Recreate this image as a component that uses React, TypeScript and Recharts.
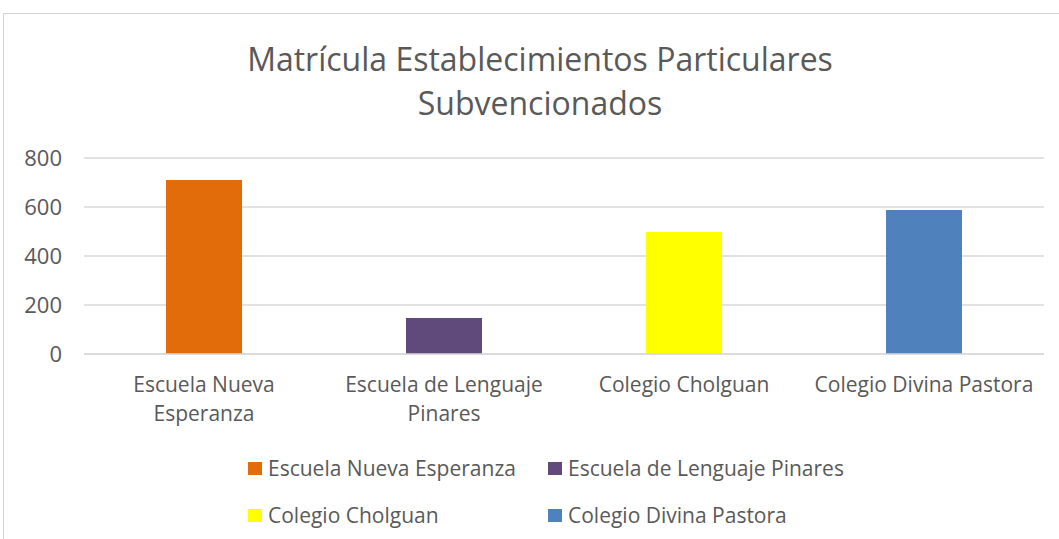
import { Bar, BarChart, CartesianGrid, Cell, Legend, XAxis, YAxis } from 'recharts';

const schools = [
  'Escuela Nueva Esperanza',
  'Escuela de Lenguaje Pinares',
  'Colegio Cholguan',
  'Colegio Divina Pastora',
];
const enrollment = [710, 147, 498, 588];
const colors = ['#E36C0A', '#604A7B', '#FFFF00', '#4F81BD'];
const yTicks = [0, 200, 400, 600, 800];
const titleLines = ['Matrícula Establecimientos Particulares', 'Subvencionados'];

const data = schools.map((name, i) => ({ name, value: enrollment[i] }));

const FONT = '"Open Sans", sans-serif';
const TEXT = '#595959';

// greedy word wrap, roughly what Excel does in a 240px category slot
const wrapLabel = (label: string, maxChars = 22) => {
  const lines: string[] = [];
  let cur = '';
  label.split(' ').forEach((w) => {
    const next = cur ? `${cur} ${w}` : w;
    if (next.length > maxChars && cur) {
      lines.push(cur);
      cur = w;
    } else {
      cur = next;
    }
  });
  if (cur) lines.push(cur);
  return lines;
};

const SchoolTick = ({ x, y, payload }: { x: number; y: number; payload: { value: string } }) => (
  <text x={x} y={y + 30} textAnchor='middle' fill={TEXT} style={{ fontFamily: FONT, fontSize: 21 }}>
    {wrapLabel(payload.value).map((line, i) => (
      <tspan key={line} x={x} dy={i === 0 ? 0 : 29}>
        {line}
      </tspan>
    ))}
  </text>
);

// 2 x 2 legend like the Excel original
const legendPos = [
  { left: 248, top: 0 },
  { left: 548, top: 0 },
  { left: 248, top: 47 },
  { left: 548, top: 47 },
];

const SchoolLegend = () => (
  <div style={{ position: 'relative', width: 1059, height: 80, fontFamily: FONT, fontSize: 21, color: TEXT }}>
    {schools.map((name, i) => (
      <div
        key={name}
        style={{
          position: 'absolute',
          left: legendPos[i].left,
          top: legendPos[i].top,
          display: 'flex',
          alignItems: 'center',
          height: 24,
          whiteSpace: 'nowrap',
        }}
      >
        <span style={{ width: 14, height: 13, background: colors[i], marginRight: 6 }} />
        {name}
      </div>
    ))}
  </div>
);

export default function App() {
  return (
    <div style={{ position: 'absolute', left: 0, top: 0, width: 1059, height: 539, overflow: 'hidden', background: '#fff' }}>
      <div
        style={{
          position: 'absolute',
          left: 3,
          top: 13,
          width: 1100,
          height: 600,
          border: '1px solid #d4d4d4',
        }}
      />
      <div style={{ position: 'absolute', left: 0, top: 0 }}>
        <BarChart width={1059} height={539} data={data} margin={{ top: 158, right: 15, left: 0, bottom: 125 }}>
          {titleLines.map((line, i) => (
            <text
              key={line}
              x={540}
              y={71 + i * 44}
              textAnchor='middle'
              fill={TEXT}
              style={{ fontFamily: FONT, fontSize: 32 }}
            >
              {line}
            </text>
          ))}
          <CartesianGrid vertical={false} stroke='#d9d9d9' strokeWidth={1.5} />
          <XAxis
            dataKey='name'
            height={60}
            axisLine={{ stroke: '#d9d9d9', strokeWidth: 1.5 }}
            tickLine={false}
            interval={0}
            tick={SchoolTick}
          />
          <YAxis
            width={84}
            domain={[0, 800]}
            ticks={yTicks}
            axisLine={false}
            tickLine={false}
            tickMargin={16}
            tick={{ fill: TEXT, fontSize: 22, fontFamily: FONT }}
          />
          <Bar dataKey='value' barSize={76} isAnimationActive={false}>
            {data.map((entry, i) => (
              <Cell key={entry.name} fill={colors[i]} />
            ))}
          </Bar>
          <Legend
            verticalAlign='middle'
            content={SchoolLegend}
            wrapperStyle={{ left: 0, top: 456, width: 1059 }}
          />
        </BarChart>
      </div>
    </div>
  );
}
